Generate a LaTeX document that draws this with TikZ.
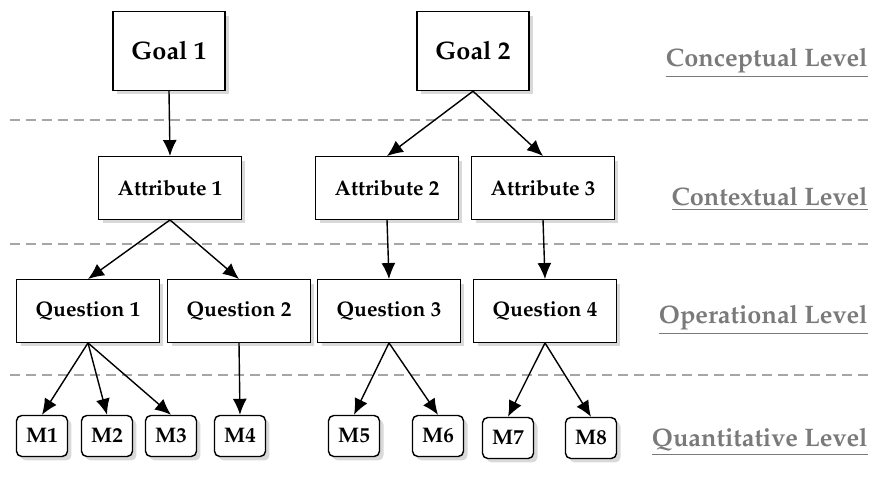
\documentclass[tikz,border=0pt]{standalone}
\usepackage[T1]{fontenc}
\usepackage{mathpazo}
\usepackage{tikz}
\usetikzlibrary{arrows.meta, shadows}
\usepackage{xcolor}

\begin{document}
\begin{tikzpicture}[x=0.02cm, y=-0.02cm]
    % Define styles
    \tikzstyle{shade}=[drop shadow={opacity=0.3, shadow xshift=0.08cm, shadow yshift=-0.08cm}]
    \tikzstyle{goalbox}=[draw, line width=0.8pt, fill=white, shade, minimum width=2.24cm, minimum height=1.58cm, font=\Large\bfseries]
    \tikzstyle{attrbox}=[draw, line width=0.8pt, fill=white, shade, minimum width=2.86cm, minimum height=1.25cm, font=\large\bfseries]
    \tikzstyle{metricbox}=[draw, line width=0.8pt, fill=white, shade, rounded corners=3pt, minimum width=1.02cm, minimum height=0.82cm, font=\large\bfseries]
    \tikzstyle{levellabel}=[anchor=east, text=black!52, font=\Large\bfseries, inner sep=0pt]
    \tikzstyle{arrow}=[-{Latex[length=3.2mm, width=2.8mm]}, line width=0.8pt]

    \useasboundingbox (0,0) rectangle (878,482);

    % Level separators
    \foreach \y in {120, 244, 375} {
        \draw[black!35, line width=0.7pt, dash pattern=on 0.2cm off 0.12cm] (10,\y) -- (870,\y);
    }

    % Level labels
    \node[levellabel] (lconc) at (868, 63) {\underline{Conceptual Level}};
    \node[levellabel] (lcont) at (868, 199) {\underline{Contextual Level}};
    \node[levellabel] (loper) at (868, 320) {\underline{Operational Level}};
    \node[levellabel] (lquan) at (868, 442) {\underline{Quantitative Level}};

    % Goals
    \node[goalbox] (goal1) at (169, 51) {Goal 1};
    \node[goalbox] (goal2) at (473, 51) {Goal 2};

    % Attributes
    \node[attrbox] (attr1) at (170, 188) {Attribute 1};
    \node[attrbox] (attr2) at (387, 188) {Attribute 2};
    \node[attrbox] (attr3) at (543, 188) {Attribute 3};

    % Questions
    \node[attrbox] (ques1) at (88, 311) {Question 1};
    \node[attrbox] (ques2) at (239, 311) {Question 2};
    \node[attrbox] (ques3) at (389, 311) {Question 3};
    \node[attrbox] (ques4) at (545, 311) {Question 4};

    % Metrics
    \node[metricbox] (m1) at (42, 436) {M1};
    \node[metricbox] (m2) at (107, 436) {M2};
    \node[metricbox] (m3) at (171, 436) {M3};
    \node[metricbox] (m4) at (240, 436) {M4};
    \node[metricbox] (m5) at (354, 436) {M5};
    \node[metricbox] (m6) at (438, 436) {M6};
    \node[metricbox] (m7) at (508, 438) {M7};
    \node[metricbox] (m8) at (591, 438) {M8};

    % Arrows
    \draw[arrow] (goal1.south) -- (attr1.north);
    \draw[arrow] (goal2.south) -- (attr2.north);
    \draw[arrow] (goal2.south) -- (attr3.north);
    \draw[arrow] (attr1.south) -- (ques1.north);
    \draw[arrow] (attr1.south) -- (ques2.north);
    \draw[arrow] (attr2.south) -- (ques3.north);
    \draw[arrow] (attr3.south) -- (ques4.north);
    \foreach \m in {m1, m2, m3} {
        \draw[arrow] (ques1.south) -- (\m.north);
    }
    \draw[arrow] (ques2.south) -- (m4.north);
    \draw[arrow] (ques3.south) -- (m5.north);
    \draw[arrow] (ques3.south) -- (m6.north);
    \draw[arrow] (ques4.south) -- (m7.north);
    \draw[arrow] (ques4.south) -- (m8.north);
\end{tikzpicture}
\end{document}
